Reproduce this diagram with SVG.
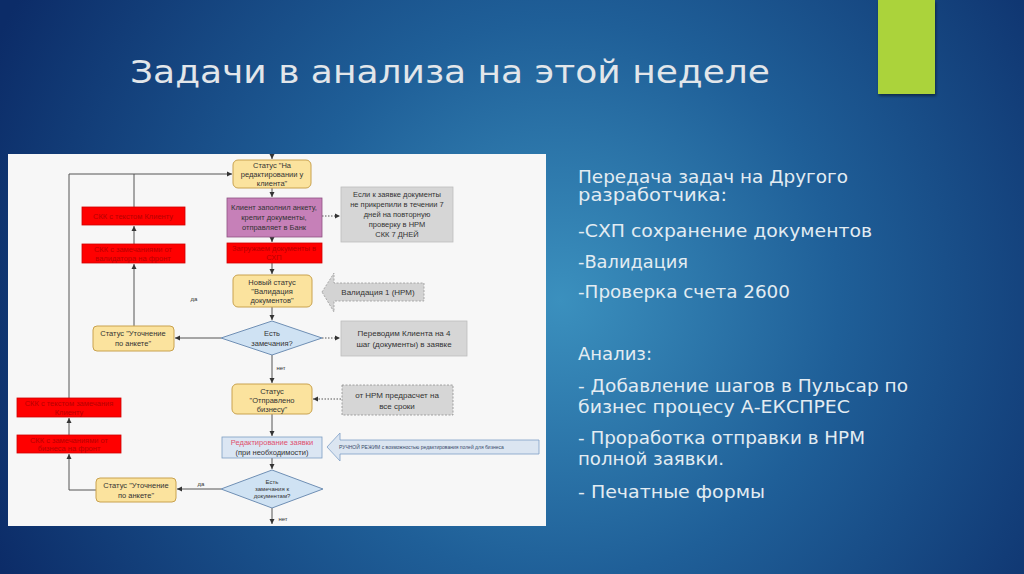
<svg xmlns="http://www.w3.org/2000/svg" width="1024" height="574" viewBox="0 0 1024 574">
<defs>
<radialGradient id="bg" cx="560" cy="300" r="620" gradientUnits="userSpaceOnUse">
<stop offset="0" stop-color="#3b90be"/>
<stop offset="0.45" stop-color="#1f5f98"/>
<stop offset="1" stop-color="#0c2c68"/>
</radialGradient>
<marker id="ah" markerWidth="6" markerHeight="6" refX="5" refY="3" orient="auto" markerUnits="userSpaceOnUse">
<path d="M0,0.5 L5,3 L0,5.5 Z" fill="#333"/>
</marker>
<filter id="sh" x="-10%" y="-10%" width="130%" height="130%">
<feDropShadow dx="1" dy="2" stdDeviation="1.5" flood-color="#000" flood-opacity="0.45"/>
</filter>
<style>
.fc{font-family:"Liberation Sans",Arial,sans-serif;font-size:7.5px;fill:#333;text-anchor:middle}
.sm{font-size:6px}
.rd{fill:#b80000}
.st{fill:#fbe39e;stroke:#c9a24e;stroke-width:1}
.red{fill:#ff0000;stroke:#d00000;stroke-width:0.8}
.gr{fill:#d6d6d6;stroke:#bdbdbd;stroke-width:0.8}
.dm{fill:#cfe2f3;stroke:#6f8fb4;stroke-width:1}
.ln{fill:none;stroke:#555;stroke-width:1}
.dt{fill:none;stroke:#555;stroke-width:1;stroke-dasharray:1.5 1.5}
.rt{font-family:"DejaVu Sans",sans-serif;fill:#e3ecf2}
</style>
</defs>
<rect x="0" y="0" width="1024" height="574" fill="url(#bg)"/>
<rect id="accent" x="878" y="0" width="57" height="94" fill="#abd33a" filter="url(#sh)"/>
<text id="title" x="130" y="83" font-family="DejaVu Sans,sans-serif" font-size="32" fill="#e2e6ea" textLength="640" lengthAdjust="spacingAndGlyphs">Задачи в анализа на этой неделе</text>

<g id="chart">
<rect x="8" y="154" width="538" height="372" fill="#f7f7f7"/>

<g id="connectors">
<path class="ln" d="M272,154 V159" marker-end="url(#ah)"/>
<path class="ln" d="M272,188 V197" marker-end="url(#ah)"/>
<path class="ln" d="M272,237 V242" marker-end="url(#ah)"/>
<path class="ln" d="M272,263 V274" marker-end="url(#ah)"/>
<path class="ln" d="M272,307 V320" marker-end="url(#ah)"/>
<path class="ln" d="M272,355 V383" marker-end="url(#ah)"/>
<path class="ln" d="M272,414 V436" marker-end="url(#ah)"/>
<path class="ln" d="M272,458 V469" marker-end="url(#ah)"/>
<path class="ln" d="M272,508 V524" marker-end="url(#ah)"/>
<path class="ln" d="M221,338 H175" marker-end="url(#ah)"/>
<path class="ln" d="M134,326 V264" marker-end="url(#ah)"/>
<path class="ln" d="M134,244 V226" marker-end="url(#ah)"/>
<path class="ln" d="M134,207 V174"/>
<path class="ln" d="M69,174 H232" marker-end="url(#ah)"/>
<path class="ln" d="M221,489 H177" marker-end="url(#ah)"/>
<path class="ln" d="M96,490 H69 V454" marker-end="url(#ah)"/>
<path class="ln" d="M69,435 V418" marker-end="url(#ah)"/>
<path class="ln" d="M69,398 V174"/>
<path class="dt" d="M322,216 H340" marker-end="url(#ah)"/>
<path class="dt" d="M322,338 H340" marker-end="url(#ah)"/>
<path class="dt" d="M341,399 H313" marker-end="url(#ah)"/>
<text class="fc sm" x="194" y="301">да</text>
<text class="fc sm" x="201" y="486">да</text>
<text class="fc sm" x="281" y="370">нет</text>
<text class="fc sm" x="283" y="521">нет</text>
</g>

<g id="status-edit">
<rect class="st" x="233" y="160" width="78" height="28" rx="5"/>
<text class="fc" x="272" y="168">Статус "На</text>
<text class="fc" x="272" y="177">редактировании у</text>
<text class="fc" x="272" y="186">клиента"</text>
</g>
<g id="client-fills">
<rect x="227" y="198" width="95" height="39" fill="#c680b8" stroke="#8e5283" stroke-width="0.8"/>
<text class="fc" x="274" y="210">Клиент заполнил анкету,</text>
<text class="fc" x="274" y="220">крепит документы,</text>
<text class="fc" x="274" y="230">отправляет в Банк</text>
</g>
<g id="upload-docs">
<rect class="red" x="227" y="243" width="95" height="20"/>
<text class="fc rd" x="274" y="251">Загружаем документы в</text>
<text class="fc rd" x="274" y="260">СХП</text>
</g>
<g id="status-validation">
<rect class="st" x="233" y="275" width="79" height="32" rx="5"/>
<text class="fc" x="272" y="285">Новый статус</text>
<text class="fc" x="272" y="294">"Валидация</text>
<text class="fc" x="272" y="303">документов"</text>
</g>
<g id="decision-1">
<polygon class="dm" points="272,321 322,338 272,355 221,338"/>
<text class="fc" x="272" y="336">Есть</text>
<text class="fc" x="272" y="346">замечания?</text>
</g>
<g id="status-sent">
<rect class="st" x="232" y="384" width="80" height="30" rx="5"/>
<text class="fc" x="272" y="394">Статус</text>
<text class="fc" x="272" y="403">"Отправлено</text>
<text class="fc" x="272" y="412">бизнесу"</text>
</g>
<g id="edit-request">
<rect x="222" y="437" width="100" height="21" fill="#dbe6f3" stroke="#7d9ec2" stroke-width="0.8"/>
<text class="fc" x="272" y="445" style="fill:#e0506e">Редактирование заявки</text>
<text class="fc" x="272" y="455">(при необходимости)</text>
</g>
<g id="decision-2">
<polygon class="dm" points="272,470 323,489 272,508 221,489"/>
<text class="fc sm" x="272" y="484">Есть</text>
<text class="fc sm" x="272" y="491">замечания к</text>
<text class="fc sm" x="272" y="498">документам?</text>
</g>
<g id="status-clarify-1">
<rect class="st" x="93" y="326" width="81" height="25" rx="4"/>
<text class="fc" x="133" y="336">Статус "Уточнение</text>
<text class="fc" x="133" y="346">по анкете"</text>
</g>
<g id="status-clarify-2">
<rect class="st" x="96" y="478" width="80" height="24" rx="4"/>
<text class="fc" x="136" y="488">Статус "Уточнение</text>
<text class="fc" x="136" y="498">по анкете"</text>
</g>
<g id="skk-client">
<rect class="red" x="82" y="207" width="103" height="18"/>
<text class="fc rd" x="133" y="219">СКК с текстом Клиенту</text>
</g>
<g id="skk-validator">
<rect class="red" x="82" y="244" width="103" height="19"/>
<text class="fc rd" x="133" y="252">СКК с замечаниями от</text>
<text class="fc rd" x="133" y="261">валидатора на фронт</text>
</g>
<g id="skk-remark-client">
<rect class="red" x="17" y="398" width="104" height="19"/>
<text class="fc rd" x="69" y="406">СКК с текстом замечания</text>
<text class="fc rd" x="69" y="415">Клиенту</text>
</g>
<g id="skk-business">
<rect class="red" x="17" y="435" width="104" height="18"/>
<text class="fc rd" x="69" y="443">СКК с замечаниями от</text>
<text class="fc rd" x="69" y="451">бизнеса на фронт</text>
</g>
<g id="note-7days">
<rect class="gr" x="341" y="187" width="112" height="55"/>
<text class="fc" x="397" y="197">Если к заявке документы</text>
<text class="fc" x="397" y="207">не прикрепили в течении 7</text>
<text class="fc" x="397" y="217">дней на повторную</text>
<text class="fc" x="397" y="227">проверку в НРМ</text>
<text class="fc" x="397" y="237">СКК 7 ДНЕЙ</text>
</g>
<g id="validation-arrow">
<polygon points="322,292 334,273 334,283 424,283 424,301 334,301 334,312" fill="#d3d3d3" stroke="#9a9a9a" stroke-width="0.8" stroke-dasharray="2 1.5"/>
<text class="fc" x="378" y="295" style="font-size:8px">Валидация 1 (НРМ)</text>
</g>
<g id="note-step4">
<rect class="gr" x="341" y="321" width="126" height="35"/>
<text class="fc" x="404" y="336" style="font-size:8px">Переводим Клиента на 4</text>
<text class="fc" x="404" y="347" style="font-size:8px">шаг (документы) в заявке</text>
</g>
<g id="note-precalc">
<rect x="342" y="385" width="111" height="30" fill="#d6d6d6" stroke="#8f8f8f" stroke-width="0.8" stroke-dasharray="2 1.5"/>
<text class="fc" x="397" y="398" style="font-size:8px">от НРМ предрасчет на</text>
<text class="fc" x="397" y="409" style="font-size:8px">все сроки</text>
</g>
<g id="manual-arrow">
<polygon points="327,447 340,433 340,440 539,440 539,454 340,454 340,461" fill="#dbe5f1" stroke="#7f9fc6" stroke-width="0.8"/>
<text x="339" y="449" font-family="Liberation Sans,sans-serif" font-size="5" fill="#3a4a6a">РУЧНОЙ РЕЖИМ с возможностью редактирования полей для бизнеса</text>
</g>
</g>

<g id="right-text">
<text class="rt" x="578" y="183" font-size="17.5" textLength="270" lengthAdjust="spacingAndGlyphs">Передача задач на Другого</text>
<text class="rt" x="578" y="201" font-size="17.5" textLength="149" lengthAdjust="spacingAndGlyphs">разработчика:</text>
<text class="rt" x="578" y="237" font-size="17.5" textLength="294" lengthAdjust="spacingAndGlyphs">-СХП сохранение документов</text>
<text class="rt" x="578" y="268" font-size="17.5" textLength="110" lengthAdjust="spacingAndGlyphs">-Валидация</text>
<text class="rt" x="578" y="298" font-size="17.5" textLength="212" lengthAdjust="spacingAndGlyphs">-Проверка счета 2600</text>
<text class="rt" x="578" y="360" font-size="17.5" textLength="74" lengthAdjust="spacingAndGlyphs">Анализ:</text>
<text class="rt" x="578" y="392" font-size="18" fill="#f2f6f8" textLength="330" lengthAdjust="spacingAndGlyphs">- Добавление шагов в Пульсар по</text>
<text class="rt" x="578" y="413" font-size="18" textLength="272" lengthAdjust="spacingAndGlyphs">бизнес процесу А-ЕКСПРЕС</text>
<text class="rt" x="578" y="444" font-size="18" textLength="287" lengthAdjust="spacingAndGlyphs">- Проработка отправки в НРМ</text>
<text class="rt" x="578" y="465" font-size="18" textLength="146" lengthAdjust="spacingAndGlyphs">полной заявки.</text>
<text class="rt" x="578" y="498" font-size="18" fill="#f2f6f8" textLength="187" lengthAdjust="spacingAndGlyphs">- Печатные формы</text>
</g>
</svg>
